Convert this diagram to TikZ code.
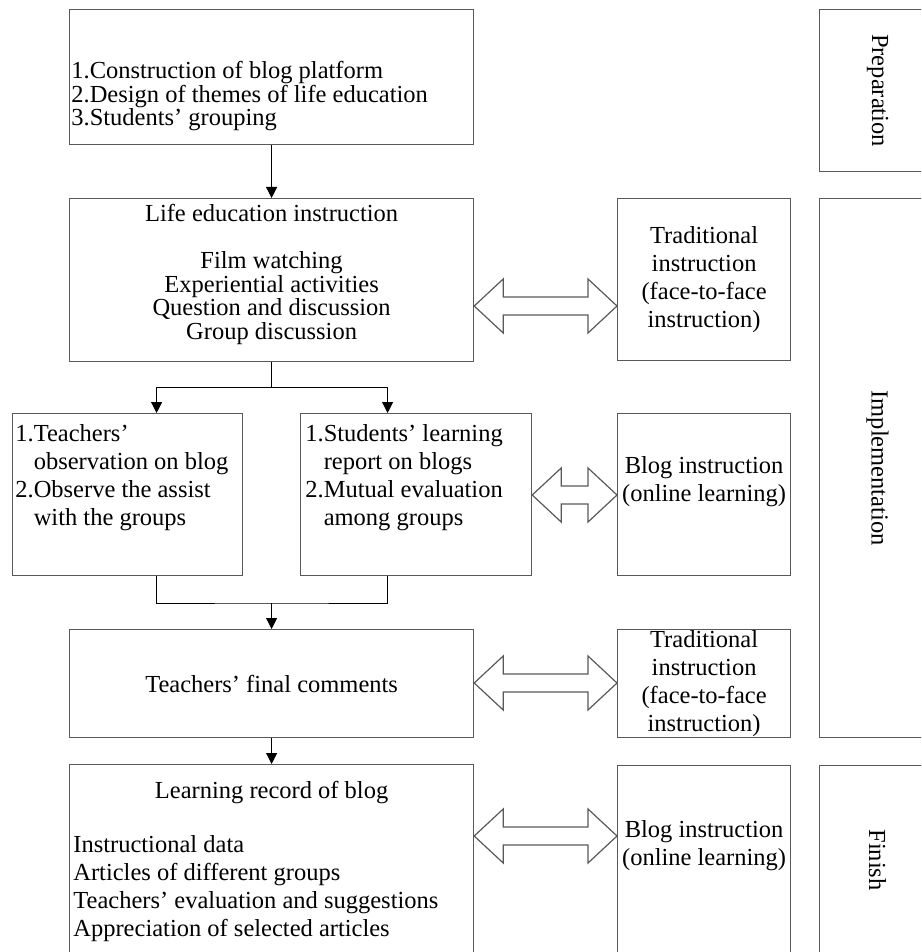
\documentclass[tikz,border=0pt]{standalone}
\usepackage{fontspec}
\setmainfont{Liberation Serif}
\usetikzlibrary{arrows.meta,calc}

\tikzset{
  box/.style={draw=black!65, line width=0.6pt, inner sep=0pt, anchor=north west,
    align=center, font=\fontsize{12.25}{14}\selectfont},
  txt/.style={inner sep=0pt, font=\fontsize{12.25}{14}\selectfont},
  flow/.style={-{Triangle[length=5.5pt,width=5.5pt]}, line width=0.5pt},
  blockarrow/.style={draw=black!65, line width=0.6pt, line join=miter},
}

% hollow two-headed arrow between two boxes at height #3
\newcommand{\dblarrow}[3]{%
  \coordinate (l) at (#1.east |- 0,#3);
  \coordinate (r) at (#2.west |- 0,#3);
  \draw[blockarrow] (l) -- ++(29,-27) -- ++(0,18) -- ($(r)+(-29,-9)$) -- ++(0,-18)
    -- (r) -- ++(-29,27) -- ++(0,-18) -- ($(l)+(29,9)$) -- ++(0,18) -- cycle;
}

\begin{document}
\begin{tikzpicture}[x=0.5pt, y=-0.5pt]
    \useasboundingbox (0,0) rectangle (921,952);
    \clip (0,0) rectangle (921,952);

    % Main column
    \node[box, minimum width=202pt, minimum height=67.5pt] (b1) at (69,9) {};
    \node[txt, anchor=north west, align=left, font=\fontsize{12.25}{11.75}\selectfont]
        (b1t) at ([shift={(2,52)}]b1.north west)
        {1.Construction of blog platform\\2.Design of themes of life education\\3.Students' grouping};

    \node[box, minimum width=202pt, minimum height=81.5pt] (b2) at (69,198) {};
    \node[txt, anchor=north, align=center, font=\fontsize{12.25}{11.75}\selectfont]
        (b2t) at ([shift={(0,6)}]b2.north)
        {Life education instruction\\[11.75pt]Film watching\\Experiential activities\\Question and discussion\\Group discussion};

    \node[box, minimum width=115pt, minimum height=81pt] (b3l) at (12,413) {};
    \node[txt, anchor=north west, align=left] (b3lt) at ([shift={(3,11)}]b3l.north west)
        {1.Teachers'\\\phantom{1.}observation on blog\\2.Observe the assist\\\phantom{2.}with the groups};

    \node[box, minimum width=115.5pt, minimum height=81pt] (b3m) at (300,413) {};
    \node[txt, anchor=north west, align=left] (b3mt) at ([shift={(5,11)}]b3m.north west)
        {1.Students' learning\\\phantom{1.}report on blogs\\2.Mutual evaluation\\\phantom{2.}among groups};

    \node[box, minimum width=202pt, minimum height=54pt] (b4) at (69,629) {Teachers' final comments};

    \node[box, minimum width=202pt, minimum height=95pt] (b5) at (69,764) {};
    \node[txt, anchor=north] (b5t) at ([shift={(0,17)}]b5.north) {Learning record of blog};
    \node[txt, anchor=north west, align=left] (b5l) at ([shift={(4,71)}]b5.north west)
        {Instructional data\\Articles of different groups\\Teachers' evaluation and suggestions\\Appreciation of selected articles};

    % Instruction column
    \node[box, minimum width=86.5pt, minimum height=81pt] (t1) at (617,198)
        {Traditional\\instruction\\(face-to-face\\instruction)};
    \node[box, minimum width=86.5pt, minimum height=81pt] (bl1) at (617,413) {};
    \node[txt, align=center] (bl1t) at ([shift={(0,-13)}]bl1.center)
        {Blog instruction\\(online learning)};
    \node[box, minimum width=86.5pt, minimum height=54pt] (t2) at (617,629)
        {Traditional\\instruction\\(face-to-face\\instruction)};
    \node[box, minimum width=86.5pt, minimum height=94.5pt] (bl2) at (617,765) {};
    \node[txt, align=center] (bl2t) at ([shift={(0,81)}]bl2.north)
        {Blog instruction\\(online learning)};

    % Stages
    \node[box, minimum width=58pt, minimum height=81pt] (s1) at (819,9) {};
    \node[txt, rotate=-90] (s1t) at (s1.center) {Preparation};
    \node[box, minimum width=58pt, minimum height=269.5pt] (s2) at (819,198) {};
    \node[txt, rotate=-90] (s2t) at (s2.center) {Implementation};
    \node[box, minimum width=58pt, minimum height=94.5pt] (s3) at (819,765) {};
    \node[txt, rotate=-90] (s3t) at (s3.center) {Finish};

    % Flow
    \draw[flow] (b1.south) -- (b2.north);
    \coordinate (split) at (b2.south |- 0,387);
    \draw[line width=0.5pt] (b2.south) -- (split);
    \draw[flow] (split) -| ([xshift=14.5pt]b3l.north);
    \draw[flow] (split) -| ([xshift=-14.25pt]b3m.north);
    \coordinate (merge) at (b4.north |- 0,603);
    \draw[line width=0.5pt] ([xshift=14.5pt]b3l.south) |- (merge) -| ([xshift=-14.25pt]b3m.south);
    \draw[flow] (merge) -- (b4.north);
    \draw[flow] (b4.south) -- (b5.north);

    % Two-way links
    \dblarrow{b2}{t1}{306}
    \dblarrow{b3m}{bl1}{495}
    \dblarrow{b4}{t2}{683}
    \dblarrow{b5}{bl2}{836}
\end{tikzpicture}
\end{document}
